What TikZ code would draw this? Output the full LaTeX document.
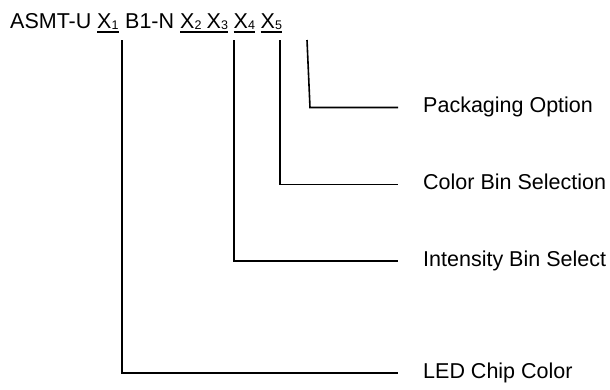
\documentclass[tikz,border=0pt]{standalone}
\usepackage{fontspec}
\setmainfont{Liberation Sans}
\newcommand\xsub[2]{#1\raisebox{-1.5pt}{\fontsize{12.5}{13}\selectfont #2}}
\begin{document}
\begin{tikzpicture}[x=1pt,y=-1pt,
  lbl/.style={anchor=base west,inner sep=0pt,font=\fontsize{21.5}{24}\selectfont},
  conn/.style={line width=1.6pt,line join=miter},
  ul/.style={line width=1.8pt}]
\useasboundingbox (0,0) rectangle (610,389);
% title pieces
\node[lbl] (asmt) at (10,28) {ASMT-U};
\node[lbl] (x1) at (97,28) {\xsub{X}{1}};
\node[lbl] (b1n) at (125,28) {B1-N};
\node[lbl] (x2) at (180,28) {\xsub{X}{2}};
\node[lbl] (x3) at (206.5,28) {\xsub{X}{3}};
\node[lbl] (x4) at (233.5,28) {\xsub{X}{4}};
\node[lbl] (x5) at (260.5,28) {\xsub{X}{5}};
\draw[ul] ([yshift=-4pt]x1.base west) -- ([yshift=-4pt]x1.base east);
\draw[ul] ([yshift=-4pt]x2.base west) -- ([yshift=-4pt]x3.base east);
\draw[ul] ([yshift=-4pt]x4.base west) -- ([yshift=-4pt]x4.base east);
\draw[ul] ([yshift=-4pt]x5.base west) -- ([yshift=-4pt]x5.base east);
% connector ends
\coordinate (t1) at (122,40);
\coordinate (t3) at (234,40);
\coordinate (t5) at (280,40);
\coordinate (t6) at (307,40);
\coordinate (b6) at (310,107.5);
\coordinate (b5) at (280,184.5);
\coordinate (b3) at (234,261);
\coordinate (b1) at (122,373);
\node[lbl] (pack) at (423,112.5) {Packaging Option};
\node[lbl] (color) at (423,189.5) {Color Bin Selection};
\node[lbl] (inten) at (423,266) {Intensity Bin Select};
\node[lbl] (chip) at (423,378) {LED Chip Color};
\coordinate (e6) at (398,107.5);
\coordinate (e5) at (398,184.5);
\coordinate (e3) at (398,261);
\coordinate (e1) at (398,373);
\draw[conn] (t6) -- (b6) -- (e6);
\draw[conn] (t5) -- (b5) -- (e5);
\draw[conn] (t3) -- (b3) -- (e3);
\draw[conn] (t1) -- (b1) -- (e1);
\end{tikzpicture}
\end{document}
